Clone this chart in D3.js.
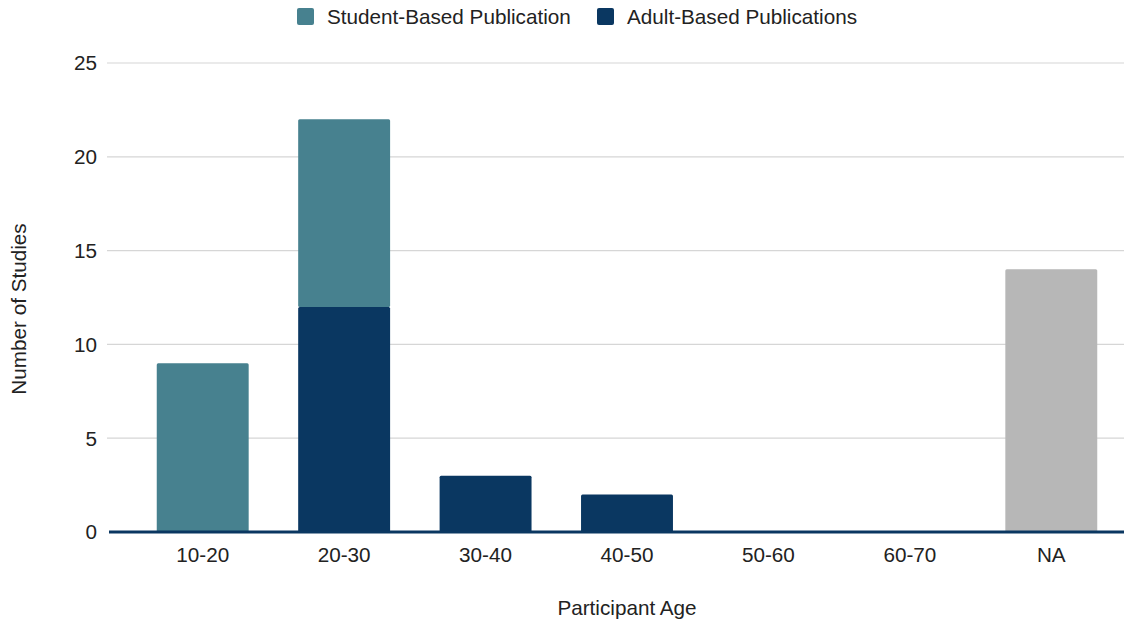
<!DOCTYPE html>
<html>
<head>
<meta charset="utf-8">
<script src="https://cdn.jsdelivr.net/npm/d3@7"></script>
<style>
  body { margin: 0; background: #fff; }
  svg { display: block; font-family: "Liberation Sans", Arial, sans-serif; }
</style>
</head>
<body>
<svg id="chart" width="1124" height="621"></svg>
<script>
// Studies per participant age group
const ageGroups = ["10-20", "20-30", "30-40", "40-50", "50-60", "60-70", "NA"];
const studentBased = [9, 10, 0, 0, 0, 0, 0];
const adultBased = [0, 12, 3, 2, 0, 0, 0];
const notReported = [0, 0, 0, 0, 0, 0, 14];
const yTicks = [0, 5, 10, 15, 20, 25];

const seriesNames = ["Adult-Based Publications", "Student-Based Publication", "Not Reported"];
const colors = {
  "Student-Based Publication": "#47818f",
  "Adult-Based Publications": "#0a3761",
  "Not Reported": "#b7b7b7"
};

const rows = ageGroups.map((g, i) => ({
  group: g,
  "Adult-Based Publications": adultBased[i],
  "Student-Based Publication": studentBased[i],
  "Not Reported": notReported[i]
}));

const svg = d3.select("#chart");
const gridLeft = 107, gridRight = 1124;
const fontSize = 20.7;
const textColor = "#222";
const x = d3.scaleBand().domain(ageGroups).range([132, 1122]).paddingInner(0.35).paddingOuter(0.175);
const y = d3.scaleLinear().domain([0, 25]).range([532, 63]);

// Gridlines
svg.append("g").selectAll("line").data(yTicks.filter(t => t > 0)).join("line")
  .attr("x1", gridLeft).attr("x2", gridRight)
  .attr("y1", d => y(d)).attr("y2", d => y(d))
  .attr("stroke", "#d6d6d6").attr("stroke-width", 1.2);

// Y tick labels
svg.append("g").selectAll("text").data(yTicks).join("text")
  .attr("x", 97).attr("y", d => y(d)).attr("dy", "0.36em")
  .attr("text-anchor", "end").attr("font-size", fontSize).attr("fill", textColor)
  .text(d => d);

// Stacked bars
const stacked = d3.stack().keys(seriesNames)(rows);
svg.append("g").selectAll("g").data(stacked).join("g")
  .attr("fill", d => colors[d.key])
  .selectAll("rect").data(d => d.filter(v => v[1] - v[0] > 0)).join("rect")
  .attr("x", d => x(d.data.group))
  .attr("width", x.bandwidth())
  .attr("y", d => y(d[1]))
  .attr("height", d => y(d[0]) - y(d[1]))
  .attr("rx", 1.5);

// Baseline
svg.append("line")
  .attr("x1", 109).attr("x2", gridRight)
  .attr("y1", y(0)).attr("y2", y(0))
  .attr("stroke", "#0a3761").attr("stroke-width", 3);

// X tick labels
svg.append("g").selectAll("text").data(ageGroups).join("text")
  .attr("x", d => x(d) + x.bandwidth() / 2).attr("y", 562)
  .attr("text-anchor", "middle").attr("font-size", fontSize).attr("fill", textColor)
  .text(d => d);

// Axis titles
svg.append("text").attr("x", 627).attr("y", 615)
  .attr("text-anchor", "middle").attr("font-size", fontSize).attr("fill", textColor)
  .text("Participant Age");
svg.append("text").attr("transform", "translate(26,309) rotate(-90)")
  .attr("text-anchor", "middle").attr("font-size", fontSize).attr("fill", textColor)
  .text("Number of Studies");

// Legend
const legendItems = [
  { name: "Student-Based Publication", x: 297 },
  { name: "Adult-Based Publications", x: 597 }
];
const lg = svg.append("g").selectAll("g").data(legendItems).join("g")
  .attr("transform", d => `translate(${d.x},8)`);
lg.append("rect").attr("width", 17).attr("height", 17).attr("rx", 2)
  .attr("fill", d => colors[d.name]);
lg.append("text").attr("x", 30).attr("y", 15.5)
  .attr("font-size", fontSize).attr("fill", textColor)
  .text(d => d.name);
</script>
</body>
</html>
